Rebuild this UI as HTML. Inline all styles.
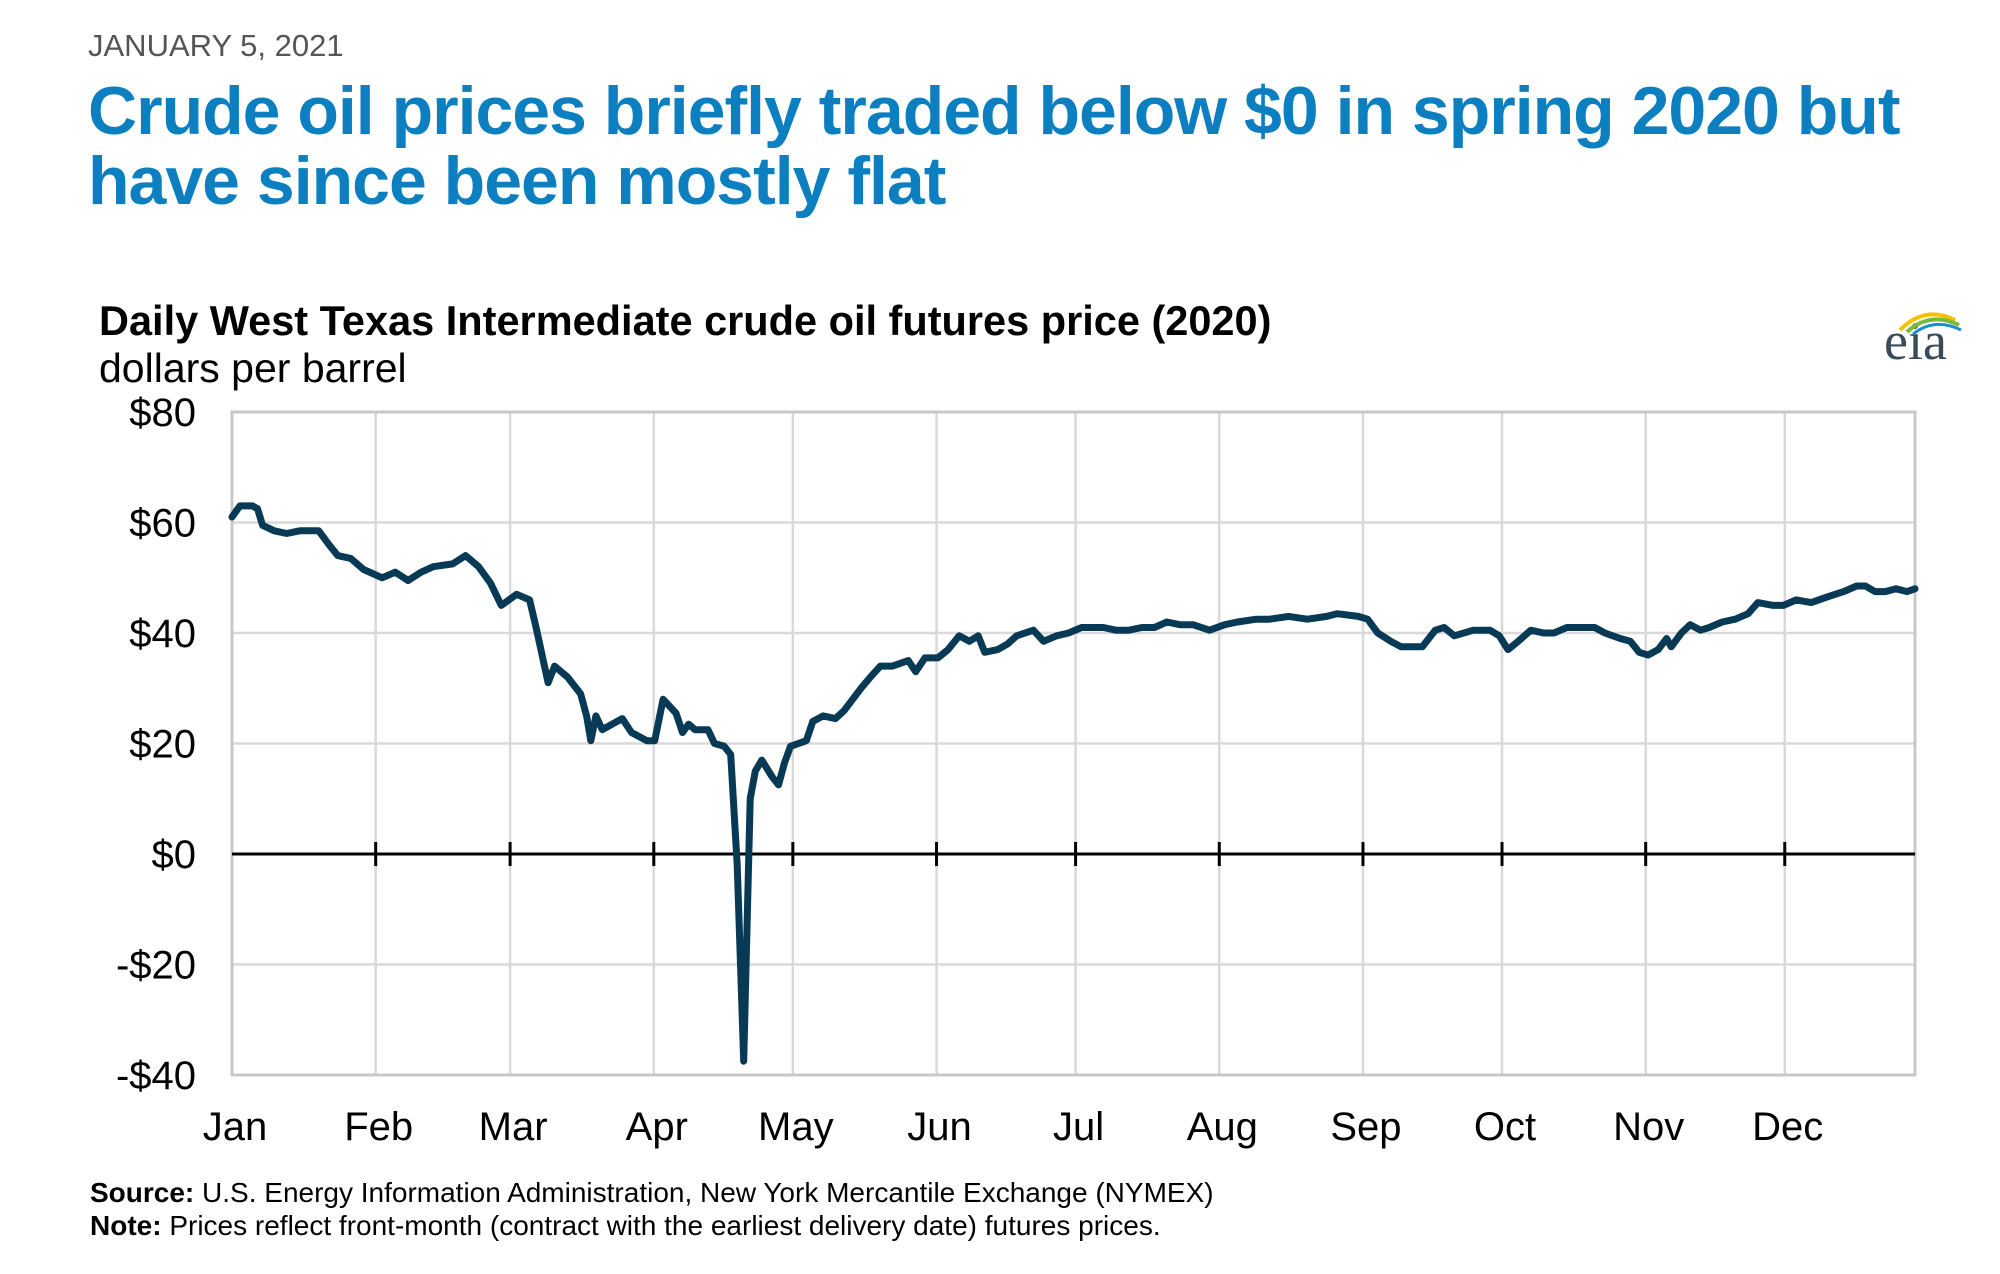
<!DOCTYPE html>
<html><head><meta charset="utf-8"><style>
body{margin:0;width:2000px;height:1274px;background:#fff;overflow:hidden;font-family:"Liberation Sans",sans-serif;position:relative}
.t{position:absolute;white-space:nowrap}
</style></head><body>
<div class="t" style="left:88px;top:28px;font-size:31px;color:#555">JANUARY 5, 2021</div>
<div class="t" style="left:88px;top:76px;font-size:68px;line-height:70px;font-weight:bold;color:#0b7fbf;letter-spacing:-1px">Crude oil prices briefly traded below $0 in spring 2020 but<br>have since been mostly flat</div>
<div class="t" style="left:99px;top:297px;font-size:41.5px;font-weight:bold;color:#000">Daily West Texas Intermediate crude oil futures price (2020)</div>
<div class="t" style="left:99px;top:345px;font-size:41px;color:#000">dollars per barrel</div>
<div class="t" style="left:1884px;top:310px;font-family:'Liberation Serif',serif;font-size:54px;color:#3a4a5a">eia</div>
<svg class="t" style="left:1895px;top:305px" width="70" height="30"><path d="M5 25 Q30 0 60 15" stroke="#f2c200" stroke-width="4" fill="none"/><path d="M12 27 Q35 6 64 20" stroke="#7ab83a" stroke-width="4" fill="none"/><path d="M18 29 Q40 12 66 25" stroke="#1a8ccc" stroke-width="3" fill="none"/></svg>
<svg id="chart" width="2000" height="1274" style="position:absolute;left:0;top:0"></svg>
<div class="t" style="left:90px;top:1177px;font-size:28px;color:#000"><b>Source:</b> U.S. Energy Information Administration, New York Mercantile Exchange (NYMEX)</div>
<div class="t" style="left:90px;top:1210px;font-size:28px;color:#000"><b>Note:</b> Prices reflect front-month (contract with the earliest delivery date) futures prices.</div>
<script>
const days=[0,1.7,4.4,5.5,6.6,9.1,11.8,14.6,18.7,20.9,22.8,25.6,28.4,32.4,35.2,38,40.8,43.4,47.6,50.4,53.2,55.8,58.1,61.4,64.2,65.6,68.2,69.6,72.4,75.2,76.5,77.4,78.5,79.9,82,84.2,86.2,89.5,91.2,93,95.8,97.2,98.5,99.9,102.7,104.1,106.2,107.6,109,110.4,111.8,112.9,114.3,116.5,117.9,119.2,120.5,123.9,125.3,127.5,130.2,132.1,135.7,137.7,139.9,142.5,145.9,147.5,149.5,152.3,154.5,156.9,159.1,161,162.4,165.2,167.3,169.3,172.9,175.1,177.9,180.5,183.3,188,190.7,193.5,196.3,199,201.7,204.5,207.3,210.9,214.2,216.9,221,223.8,228,232,236.2,238.4,243,245,247.2,250,252.2,254,256.8,259.6,261.5,263.7,267.8,271.4,273.4,275.3,277.5,280.2,283,285.2,288,291.3,294,296.2,299.5,301.7,303.6,305.5,307.7,309.5,310.5,312.7,314.6,316.8,318.7,321.5,324.3,327.1,329.2,332.5,334.7,337.5,340.7,344.1,347.7,350.5,352.4,354.5,356.7,359,361.4,363.1];
const prices=[61,63,63,62.5,59.5,58.5,58,58.5,58.5,56,54,53.5,51.5,50,51,49.5,51,52,52.5,54,52,49,45,47,46,41,31,34,32,29,25,20.5,25,22.5,23.5,24.5,22,20.5,20.5,28,25.5,22,23.5,22.5,22.5,20,19.5,18,-2,-37.5,10,15,17,14,12.5,16.5,19.5,20.5,24,25,24.5,26,30,32,34,34,35,33,35.5,35.5,37,39.5,38.5,39.5,36.5,37,38,39.5,40.5,38.5,39.5,40,41,41,40.5,40.5,41,41,42,41.5,41.5,40.5,41.5,42,42.5,42.5,43,42.5,43,43.5,43,42.5,40,38.5,37.5,37.5,37.5,40.5,41,39.5,40.5,40.5,39.5,37,38.5,40.5,40,40,41,41,41,40,39,38.5,36.5,36,37,39,37.5,40,41.5,40.5,41,42,42.5,43.5,45.5,45,45,46,45.5,46.5,47.5,48.5,48.5,47.5,47.5,48,47.5,48];
const yTicks=[80,60,40,20,0,-20,-40];
const yLabels=["$80","$60","$40","$20","$0","-$20","-$40"];
const monthStarts=[0,31,60,91,121,152,182,213,244,274,305,335];
const monthLabels=["Jan","Feb","Mar","Apr","May","Jun","Jul","Aug","Sep","Oct","Nov","Dec"];
const L=232,R=1915,T=412,B=1075,DMAX=363.1;
const x=d=>L+(R-L)*d/DMAX;
const y=v=>T+(B-T)*(80-v)/120;
const svg=document.getElementById('chart');
const NS='http://www.w3.org/2000/svg';
function mk(tag,attrs){const e=document.createElementNS(NS,tag);for(const k in attrs)e.setAttribute(k,attrs[k]);svg.appendChild(e);return e;}
yTicks.forEach((v,i)=>{
  if(v!==0){const g=mk('line',{x1:L,x2:R,y1:y(v),y2:y(v),stroke:'#d9d9d9','stroke-width':2.5});
  
  }
  const t=mk('text',{x:196,y:y(v)+14,'text-anchor':'end','font-size':40,fill:'#000'});
  t.textContent=yLabels[i];
  
  
});
monthStarts.forEach((d,i)=>{
  if(i>0){const g=mk('line',{x1:x(d),x2:x(d),y1:T,y2:B,stroke:'#d9d9d9','stroke-width':2.5});
  
  }
  const tk=mk('line',{x1:x(d),x2:x(d),y1:y(0)-12,y2:y(0)+12,stroke:'#000','stroke-width':3});
  
  
  const t=mk('text',{x:x(d)+3,y:1140,'text-anchor':'middle','font-size':40,fill:'#000'});
  t.textContent=monthLabels[i];
  
  
});
const fr=mk('rect',{x:L,y:T,width:R-L,height:B-T,fill:'none',stroke:'#c8c8c8','stroke-width':3});


const zl=mk('line',{x1:L,x2:R,y1:y(0),y2:y(0),stroke:'#000','stroke-width':3});


const pts=days.map((d,i)=>x(d).toFixed(1)+','+y(prices[i]).toFixed(1)).join(' ');
const pl=mk('polyline',{points:pts,fill:'none',stroke:'#083a56','stroke-width':7,'stroke-linejoin':'round','stroke-linecap':'round'});


</script>
</body></html>
